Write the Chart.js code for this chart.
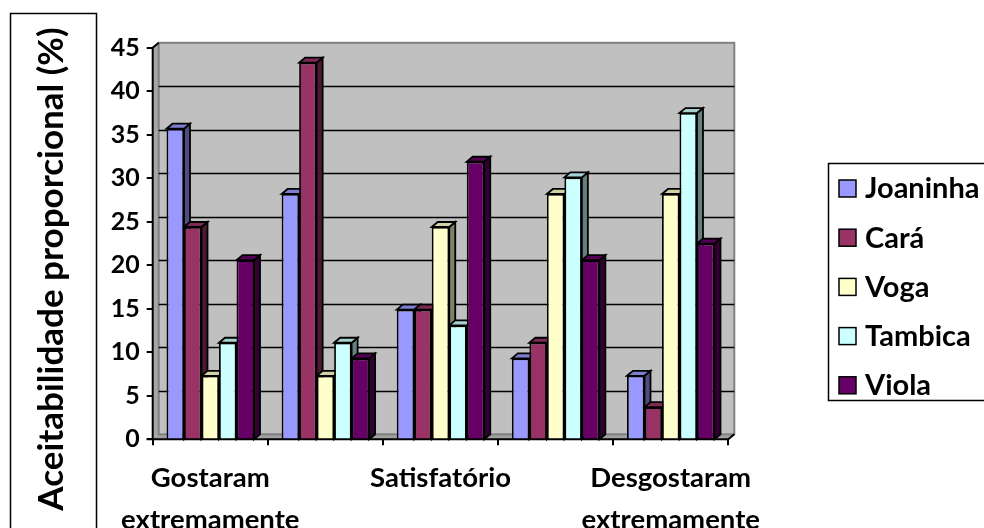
<!DOCTYPE html>
<html>
<head>
<meta charset="utf-8">
<script src="https://cdn.jsdelivr.net/npm/chart.js@4"></script>
<style>
  html, body { margin: 0; padding: 0; background: #ffffff; }
  canvas { display: block; }
</style>
</head>
<body>
<canvas id="chart" width="984" height="528"></canvas>
<script>
// Acceptance categories (only three of the five carry a visible label)
const categories = [["Gostaram", "extremamente"], "", "Satisfatório", "", ["Desgostaram", "extremamente"]];

// Series names and proportional acceptance (%) per category
const seriesNames = ["Joaninha", "Cará", "Voga", "Tambica", "Viola"];
const joaninha = [35.7, 28.2, 14.9, 9.3, 7.3];
const cara     = [24.4, 43.3, 14.9, 11.1, 3.7];
const voga     = [7.3, 7.3, 24.4, 28.2, 28.2];
const tambica  = [11.1, 11.1, 13.1, 30.1, 37.5];
const viola    = [20.6, 9.3, 31.9, 20.6, 22.5];

// Value axis ticks
const yTicks = [0, 5, 10, 15, 20, 25, 30, 35, 40, 45];

const yTitle = "Aceitabilidade proporcional (%)";

const seriesColors = ["#9999FF", "#993366", "#FFFFCC", "#CCFFFF", "#660066"];
const seriesValues = [joaninha, cara, voga, tambica, viola];

const FONT = "Lato, 'Open Sans', sans-serif";
const DEPTH = { dx: 6, dy: 5 };

function shade(hex, f) {
  const n = parseInt(hex.slice(1), 16);
  const r = Math.round(((n >> 16) & 255) * f);
  const g = Math.round(((n >> 8) & 255) * f);
  const b = Math.round((n & 255) * f);
  return `rgb(${r},${g},${b})`;
}

// Walls, floor, gridlines and the 3D top/side faces of the bars
const wallPlugin = {
  id: "walls",
  beforeDatasetsDraw(chart) {
    const { ctx, chartArea: a, scales } = chart;
    const ys = scales.y;
    const { dx, dy } = DEPTH;
    const topY = ys.getPixelForValue(45);
    ctx.save();
    // left side wall
    ctx.fillStyle = "#a6a6a6";
    ctx.beginPath();
    ctx.moveTo(a.left, a.bottom);
    ctx.lineTo(a.left + dx, a.bottom - dy);
    ctx.lineTo(a.left + dx, topY - dy);
    ctx.lineTo(a.left, topY);
    ctx.closePath();
    ctx.fill();
    // floor
    ctx.fillStyle = "#a0a0a0";
    ctx.beginPath();
    ctx.moveTo(a.left, a.bottom);
    ctx.lineTo(a.right, a.bottom);
    ctx.lineTo(a.right + dx, a.bottom - dy);
    ctx.lineTo(a.left + dx, a.bottom - dy);
    ctx.closePath();
    ctx.fill();
    // back wall
    ctx.fillStyle = "#C0C0C0";
    ctx.fillRect(a.left + dx, topY - dy, a.right - a.left, a.bottom - topY);
    ctx.strokeStyle = "#808080";
    ctx.lineWidth = 2;
    ctx.strokeRect(a.left + dx, topY - dy, a.right - a.left, a.bottom - topY);
    // gridlines on the back wall
    ctx.strokeStyle = "#000000";
    ctx.lineWidth = 1.5;
    yTicks.forEach(v => {
      if (v === 0 || v === 45) return;
      const py = Math.round(ys.getPixelForValue(v) - dy) + 0.5;
      ctx.beginPath();
      ctx.moveTo(a.left + dx, py);
      ctx.lineTo(a.right + dx, py);
      ctx.stroke();
    });
    // bar depth faces, drawn series by series so fronts cover them afterwards
    ctx.lineWidth = 1.8;
    ctx.strokeStyle = "#000000";
    chart.data.datasets.forEach((ds, i) => {
      const meta = chart.getDatasetMeta(i);
      const col = seriesColors[i];
      meta.data.forEach(bar => {
        const p = bar.getProps(["x", "y", "base", "width"], true);
        const l = p.x - p.width / 2, r = p.x + p.width / 2;
        // side face
        ctx.fillStyle = shade(col, 0.5);
        ctx.beginPath();
        ctx.moveTo(r, p.y);
        ctx.lineTo(r + dx, p.y - dy);
        ctx.lineTo(r + dx, p.base - dy);
        ctx.lineTo(r, p.base);
        ctx.closePath();
        ctx.fill();
        ctx.stroke();
        // top face
        ctx.fillStyle = shade(col, 0.82);
        ctx.beginPath();
        ctx.moveTo(l, p.y);
        ctx.lineTo(l + dx, p.y - dy);
        ctx.lineTo(r + dx, p.y - dy);
        ctx.lineTo(r, p.y);
        ctx.closePath();
        ctx.fill();
        ctx.stroke();
      });
    });
    ctx.restore();
  },
  afterDatasetsDraw(chart) {
    const { ctx, chartArea: a, scales } = chart;
    const ys = scales.y;
    const { dx, dy } = DEPTH;
    const topY = ys.getPixelForValue(45);
    ctx.save();
    ctx.strokeStyle = "#000000";
    ctx.lineWidth = 2;
    // value axis with outward tick marks
    ctx.beginPath();
    ctx.moveTo(a.left, a.bottom);
    ctx.lineTo(a.left, topY);
    ctx.lineTo(a.left + dx, topY - dy);
    ctx.stroke();
    yTicks.forEach(v => {
      const py = Math.round(ys.getPixelForValue(v));
      ctx.beginPath();
      ctx.moveTo(a.left - 6, py);
      ctx.lineTo(a.left, py);
      ctx.stroke();
    });
    // category axis with tick marks between categories
    ctx.beginPath();
    ctx.moveTo(a.left - 6, a.bottom);
    ctx.lineTo(a.right, a.bottom);
    ctx.lineTo(a.right + dx, a.bottom - dy);
    ctx.stroke();
    const step = (a.right - a.left) / categories.length;
    for (let i = 0; i <= categories.length; i++) {
      const px = Math.round(a.left + i * step);
      ctx.beginPath();
      ctx.moveTo(px, a.bottom);
      ctx.lineTo(px, a.bottom + 6);
      ctx.stroke();
    }
    ctx.restore();
  }
};

// Framed vertical axis title and framed legend
const framePlugin = {
  id: "frames",
  afterDraw(chart) {
    const { ctx } = chart;
    ctx.save();
    ctx.strokeStyle = "#000000";
    ctx.lineWidth = 1.5;
    ctx.strokeRect(10.5, 13.5, 86, 530);
    ctx.translate(52, 269);
    ctx.rotate(-Math.PI / 2);
    ctx.fillStyle = "#000000";
    ctx.font = `bold 35px ${FONT}`;
    ctx.textAlign = "center";
    ctx.textBaseline = "middle";
    ctx.fillText(yTitle, 0, 0);
    ctx.restore();

    ctx.save();
    ctx.strokeStyle = "#000000";
    ctx.lineWidth = 1.5;
    ctx.strokeRect(828.5, 163.5, 170, 237);
    ctx.font = `bold 29px ${FONT}`;
    ctx.textBaseline = "middle";
    chart.data.datasets.forEach((ds, i) => {
      const cy = 188 + i * 49.2;
      ctx.fillStyle = ds.backgroundColor;
      ctx.fillRect(839, cy - 8, 17, 17);
      ctx.strokeRect(839, cy - 8, 17, 17);
      ctx.fillStyle = "#000000";
      ctx.fillText(ds.label, 865, cy + 1);
    });
    ctx.restore();
  }
};

new Chart(document.getElementById("chart"), {
  type: "bar",
  data: {
    labels: categories,
    datasets: seriesNames.map((name, i) => ({
      label: name,
      data: seriesValues[i],
      backgroundColor: seriesColors[i],
      borderColor: "#000000",
      borderWidth: 1.8
    }))
  },
  options: {
    responsive: false,
    animation: false,
    devicePixelRatio: 1,
    layout: { padding: { left: 0, right: 255.7, top: 47.8, bottom: 0 } },
    datasets: { bar: { categoryPercentage: 0.76, barPercentage: 1.0 } },
    plugins: { legend: { display: false }, tooltip: { enabled: false } },
    scales: {
      x: {
        grid: { display: false, drawTicks: false },
        border: { display: false },
        ticks: {
          color: "#000000",
          maxRotation: 0,
          autoSkip: false,
          padding: 18,
          font: { family: FONT, size: 27.5, weight: "bold", lineHeight: 1.527 }
        },
        afterFit(scale) { scale.height = 528 - 439.3; }
      },
      y: {
        min: 0,
        max: 45,
        grid: { display: false, drawTicks: false },
        border: { display: false },
        afterBuildTicks(scale) { scale.ticks = yTicks.map(v => ({ value: v })); },
        ticks: {
          color: "#000000",
          padding: 13,
          font: { family: FONT, size: 25, weight: "bold" }
        },
        afterFit(scale) { scale.width = 152.7; }
      }
    }
  },
  plugins: [wallPlugin, framePlugin]
});
</script>
</body>
</html>
